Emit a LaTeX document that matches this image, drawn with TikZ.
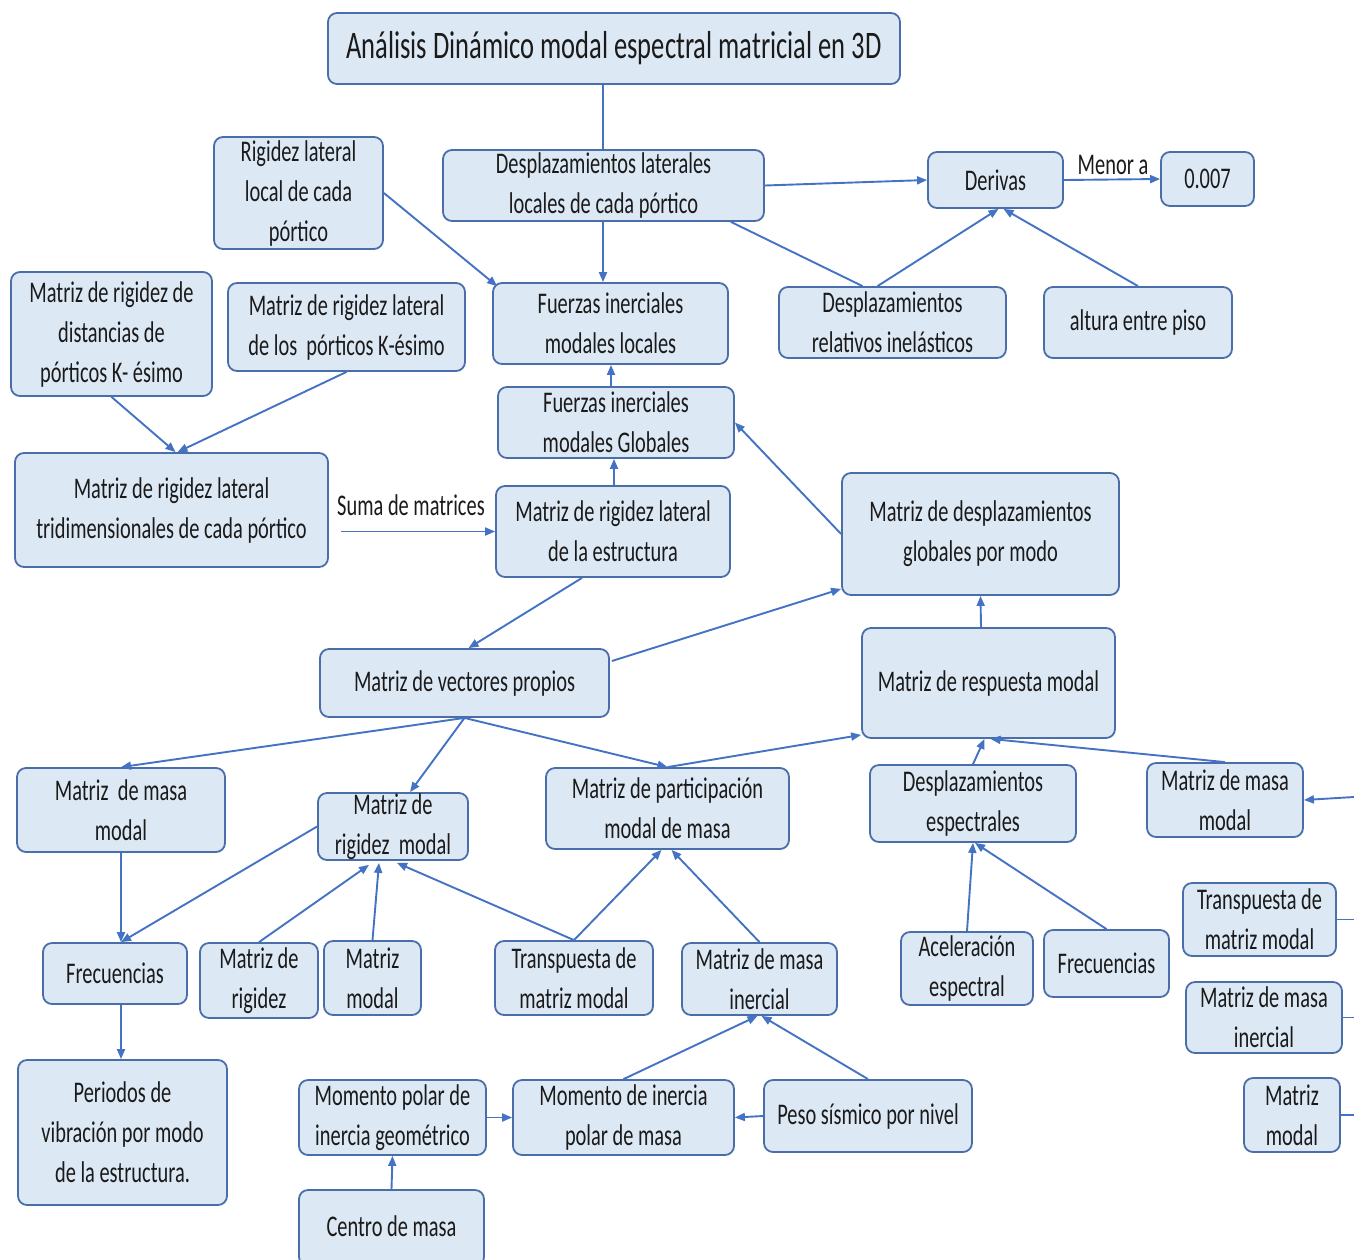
\documentclass[tikz,border=0pt]{standalone}
\usepackage{fontspec}
\setmainfont{Carlito}[FakeStretch=0.68]
\usetikzlibrary{arrows.meta,calc}
\definecolor{boxfill}{HTML}{DDE8F5}
\definecolor{boxline}{HTML}{4A6EA9}
\definecolor{conn}{HTML}{4472C4}
\definecolor{ink}{HTML}{1A1A1A}
\tikzset{
  box/.style={draw=boxline,fill=boxfill,line width=1.8pt,rounded corners=9pt,inner sep=0pt},
  txt/.style={align=center,text=ink,inner sep=0pt,font=\fontsize{30}{40}\selectfont},
  lbl/.style={text=ink,inner sep=0pt,font=\fontsize{30}{40}\selectfont},
  ln/.style={draw=conn,line width=1.9pt},
  arr/.style={ln,-{Triangle[length=10pt,width=8pt]}},
}
\newcommand\bx[6]{%
  \node[box,minimum width=#4pt,minimum height=#5pt] (#1) at (#2,#3) {};
  \node[txt] (#1-t) at (#1.center) {#6};}
\begin{document}
\begin{tikzpicture}[x=1pt,y=-1pt]
\useasboundingbox[fill=white] (0,0) rectangle (1354,1259);
% boxes
\node[box,minimum width=572pt,minimum height=71pt] (title) at (614,48.5) {};
\node[txt,font=\fontsize{39}{46}\selectfont] (title-t) at (title.center) {Análisis Dinámico modal espectral matricial en 3D};
\bx{rigLat}{298.5}{193}{169}{112}{Rigidez lateral\\local de cada\\pórtico}
\bx{despLat}{603.5}{185.5}{321}{71}{Desplazamientos laterales\\locales de cada pórtico}
\bx{derivas}{995.5}{180}{135}{56}{Derivas}
\bx{vsiete}{1207.5}{179}{93}{54}{0.007}
\bx{matDist}{111.5}{334}{201}{124}{Matriz de rigidez de\\distancias de\\pórticos K- ésimo}
\bx{matPort}{346.5}{327}{237}{88}{Matriz de rigidez lateral\\de los\ \ pórticos K-ésimo}
\bx{fuerLoc}{610.5}{323.5}{235}{81}{Fuerzas inerciales\\modales locales}
\bx{despRel}{892.5}{322.5}{227}{71}{Desplazamientos\\relativos inelásticos}
\bx{altura}{1138}{322.5}{188}{71}{altura entre piso}
\bx{fuerGlob}{616}{422.5}{236}{71}{Fuerzas inerciales\\modales Globales}
\bx{matTri}{171.5}{510}{313}{114}{Matriz de rigidez lateral\\tridimensionales de cada pórtico}
\bx{matEst}{613}{531.5}{234}{91}{Matriz de rigidez lateral\\de la estructura}
\bx{matDespG}{980.5}{534}{277}{122}{Matriz de desplazamientos\\globales por modo}
\bx{vecProp}{464.5}{683}{289}{68}{Matriz de vectores propios}
\bx{respModal}{988.5}{683}{253}{110}{Matriz de respuesta modal}
\bx{masaModal}{121}{810}{208}{84}{Matriz\ \ de masa\\modal}
\bx{rigModal}{393}{826.5}{150}{67}{Matriz de\\rigidez\ \ modal}
\bx{partic}{667.5}{808.5}{243}{81}{Matriz de participación\\modal de masa}
\bx{despEsp}{973}{803.5}{206}{77}{Desplazamientos\\espectrales}
\bx{masaModalB}{1225}{800}{156}{74}{Matriz de masa\\modal}
\bx{frecA}{115}{973.5}{144}{61}{Frecuencias}
\bx{matRig}{259}{980.5}{118}{75}{Matriz de\\rigidez}
\bx{matModal}{372.5}{978}{97}{74}{Matriz\\modal}
\bx{transp}{574}{978}{158}{74}{Transpuesta de\\matriz modal}
\bx{masaIner}{759.5}{979}{155}{72}{Matriz de masa\\inercial}
\bx{acel}{967}{968.5}{132}{73}{Aceleración\\espectral}
\bx{frecB}{1106.5}{963.5}{125}{67}{Frecuencias}
\bx{transpB}{1259.5}{919.5}{153}{73}{Transpuesta de\\matriz modal}
\bx{masaInerB}{1264}{1017.5}{156}{71}{Matriz de masa\\inercial}
\bx{matModalB}{1292}{1115}{96}{74}{Matriz\\modal}
\bx{periodos}{122.5}{1132.5}{209}{145}{Periodos de\\vibración por modo\\de la estructura.}
\bx{momPolar}{392.5}{1117.5}{187}{75}{Momento polar de\\inercia geométrico}
\bx{momIner}{623.5}{1117.5}{221}{75}{Momento de inercia\\polar de masa}
\bx{peso}{868}{1116}{208}{72}{Peso sísmico por nivel}
\node[box,minimum width=185pt,minimum height=76pt] (centro) at (391.5,1228) {};
\node[txt] (centro-t) at (391.5,1226) {Centro de masa};
% free ends at the right edge
\coordinate (eA) at (1354,797);
\coordinate (eB) at (1354,919.5);
\coordinate (eC) at (1354,1017.5);
\coordinate (eD) at (1354,1115);
% connectors
\draw[ln] ($(title.south)+(-11,0)$) -- ($(despLat.north)+(-0.5,0)$);
\draw[arr] ($(despLat.south)+(-0.5,0)$) -- ($(despLat.south |- fuerLoc.north)+(-0.5,0)$);
\draw[arr] (despLat.east) -- (derivas.west);
\draw[arr] (derivas.east) -- (vsiete.west);
\node[lbl,anchor=south] (menor) at (1113,175) {Menor a};
\draw[ln] ($(despLat.south east)+(-34,0)$) -- ($(despRel.north)+(-30,0)$);
\draw[arr] ($(despRel.north)+(-15,0)$) -- ($(derivas.south)+(3,0)$);
\draw[arr] (altura.north) -- ($(derivas.south)+(8,0)$);
\draw[arr] (rigLat.east) -- ($(fuerLoc.north west)+(5,4)$);
\draw[arr] (matDist.south) -- ($(matTri.north)+(4,0)$);
\draw[arr] (matPort.south) -- ($(matTri.north)+(6,0)$);
\draw[arr] ($(fuerGlob.north)+(-5,0)$) -- ($(fuerLoc.south)+(0.5,0)$);
\draw[arr] ($(matEst.north)+(1,0)$) -- ($(fuerGlob.south)+(-2,0)$);
\draw[arr] (matDespG.west) -- (fuerGlob.east);
\draw[arr] ($(matTri.east |- matEst.west)+(12,0)$) -- (matEst.west);
\node[lbl,anchor=south] (suma) at (411,516) {Suma de matrices};
\draw[arr] ($(matEst.south)+(-31,0)$) -- ($(vecProp.north)+(4,0)$);
\draw[arr] ($(vecProp.east)+(2,-22)$) -- ($(matDespG.south west)+(0,-7)$);
\draw[arr] ($(respModal.north)+(-7.5,0)$) -- (matDespG.south);
\draw[arr] (vecProp.south) -- (masaModal.north);
\draw[arr] (vecProp.south) -- ($(rigModal.north)+(17,0)$);
\draw[arr] (vecProp.south) -- (partic.north);
\draw[arr] (partic.north) -- ($(respModal.south west)+(0,-4)$);
\draw[arr] (despEsp.north) -- ($(respModal.south)+(-4,0)$);
\draw[arr] (masaModalB.north) -- ($(respModal.south)+(2,0)$);
\draw[arr] (eA) -- (masaModalB.east);
\draw[arr] (masaModal.south) -- ($(frecA.north)+(6,0)$);
\draw[arr] (rigModal.west) -- ($(frecA.north)+(6,0)$);
\draw[arr] (matRig.north) -- ($(rigModal.south)+(-24,4)$);
\draw[arr] (matModal.north) -- ($(rigModal.south)+(-14,2)$);
\draw[arr] (transp.north) -- ($(rigModal.south)+(4,2)$);
\draw[arr] (transp.north) -- ($(partic.south)+(-6,0)$);
\draw[arr] (masaIner.north) -- ($(partic.south)+(4,0)$);
\draw[arr] (acel.north) -- (despEsp.south);
\draw[arr] (frecB.north) -- ($(despEsp.south)+(2,0)$);
\draw[arr] ($(frecA.south)+(6,0)$) -- ($(periodos.north)+(-1.5,0)$);
\draw[arr] (momIner.north) -- ($(masaIner.south)+(-2,0)$);
\draw[arr] (peso.north) -- ($(masaIner.south)+(2,0)$);
\draw[arr] (peso.west) -- (momIner.east);
\draw[arr] (momPolar.east) -- (momIner.west);
\draw[arr] (centro.north) -- (momPolar.south);
\draw[ln] (transpB.east) -- (eB);
\draw[ln] (masaInerB.east) -- (eC);
\draw[ln] (matModalB.east) -- (eD);
\end{tikzpicture}
\end{document}
